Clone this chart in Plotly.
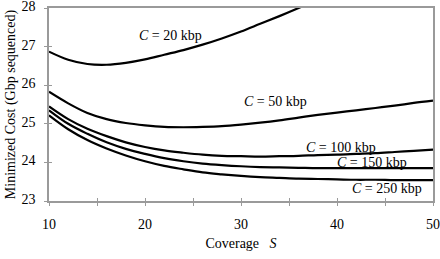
import plotly.graph_objects as go

coverage = [10, 12, 14, 16, 18, 20, 22, 24, 26, 28, 30, 32, 34, 36, 38, 40, 42, 44, 46, 48, 50]

cost_20 = [26.87, 26.66, 26.55, 26.53, 26.58, 26.67, 26.79, 26.91, 27.05, 27.21, 27.39, 27.59, 27.79, 28.0, 28.22, 28.44, 28.66, 28.88, 29.1, 29.32, 29.54]
cost_50 = [25.83, 25.53, 25.28, 25.12, 25.02, 24.96, 24.92, 24.91, 24.92, 24.94, 24.98, 25.03, 25.09, 25.16, 25.23, 25.29, 25.35, 25.41, 25.47, 25.54, 25.6]
cost_100 = [25.45, 25.12, 24.87, 24.68, 24.52, 24.4, 24.31, 24.25, 24.2, 24.17, 24.16, 24.15, 24.16, 24.17, 24.19, 24.2, 24.22, 24.24, 24.27, 24.3, 24.33]
cost_150 = [25.35, 25.0, 24.74, 24.52, 24.35, 24.22, 24.11, 24.03, 23.97, 23.93, 23.9, 23.88, 23.87, 23.86, 23.85, 23.85, 23.85, 23.85, 23.85, 23.85, 23.85]
cost_250 = [25.22, 24.86, 24.58, 24.36, 24.18, 24.03, 23.91, 23.82, 23.74, 23.69, 23.65, 23.62, 23.6, 23.58, 23.57, 23.56, 23.55, 23.55, 23.54, 23.54, 23.54]

series = [cost_20, cost_50, cost_100, cost_150, cost_250]
label_text = ["<i>C</i> = 20 kbp", "<i>C</i> = 50 kbp", "<i>C</i> = 100 kbp", "<i>C</i> = 150 kbp", "<i>C</i> = 250 kbp"]
label_x = [22.7, 33.6, 40.4, 43.6, 45.2]
label_y = [27.29, 25.58, 24.38, 23.99, 23.33]

x_ticks = [10, 20, 30, 40, 50]
y_ticks = [23, 24, 25, 26, 27, 28]
x_minor = [10, 15, 20, 25, 30, 35, 40, 45, 50]

FONT = "Liberation Serif, Times New Roman, serif"
AXC = "#9a9a9a"

fig = go.Figure()
for ys in series:
    fig.add_trace(go.Scatter(x=coverage, y=ys, mode="lines",
                             line=dict(color="black", width=2.2, shape="spline"),
                             showlegend=False, hoverinfo="skip"))

for t, x, y in zip(label_text, label_x, label_y):
    fig.add_annotation(x=x, y=y, text=t, showarrow=False,
                       font=dict(family=FONT, size=14, color="black"))

fig.add_trace(go.Scatter(x=[None], y=[None], xaxis="x2", yaxis="y2",
                         showlegend=False, hoverinfo="skip"))

fig.update_layout(
    width=440, height=259,
    margin=dict(l=49, r=7, t=8, b=58),
    paper_bgcolor="white", plot_bgcolor="white",
    font=dict(family=FONT, size=14, color="black"),
    xaxis=dict(range=[10, 50], tickvals=x_minor,
               ticktext=[str(v) if v in x_ticks else "" for v in x_minor],
               ticks="outside", ticklen=3, automargin=False,
               tickcolor=AXC, showline=True, linecolor=AXC, linewidth=1.5,
               mirror=True, showgrid=False, zeroline=False,
               ticklabelstandoff=6, ticklabeloverflow="allow",
               title=dict(text="Coverage   <i>S</i>", font=dict(size=14), standoff=8)),
    yaxis=dict(range=[23, 28], tickvals=y_ticks, ticks="outside", ticklen=3,
               automargin=False,
               tickcolor=AXC, showline=True, linecolor=AXC, linewidth=1.5,
               mirror=True, showgrid=False, zeroline=False,
               ticklabelstandoff=6, ticklabeloverflow="allow", ticklabelshift=-2,
               title=dict(text="Minimized Cost (Gbp sequenced)", font=dict(size=14), standoff=3)),
    xaxis2=dict(range=[10, 50], overlaying="x", tickvals=x_minor,
                ticks="inside", ticklen=3, tickcolor=AXC, showticklabels=False,
                showgrid=False, zeroline=False, side="bottom", anchor="y"),
    yaxis2=dict(range=[23, 28], overlaying="y", tickvals=y_ticks,
                ticks="inside", ticklen=3, tickcolor=AXC, showticklabels=False,
                showgrid=False, zeroline=False, side="left", anchor="x"),
)

fig.write_html("out.html", config={"displayModeBar": False},
               post_script="document.body.style.margin='0';")
